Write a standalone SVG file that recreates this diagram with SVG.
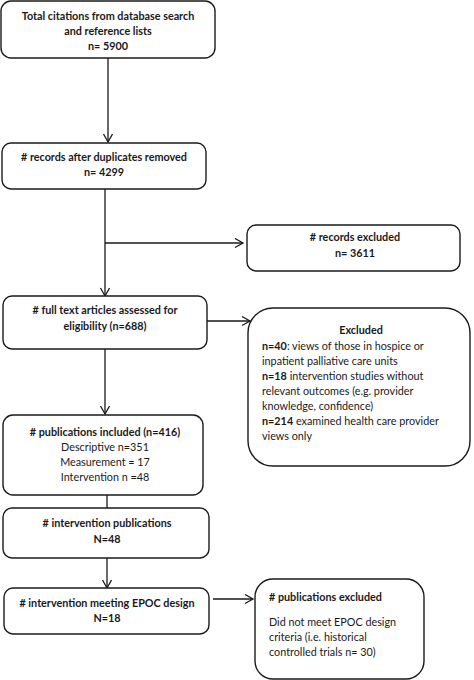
<svg xmlns="http://www.w3.org/2000/svg" width="474" height="680" viewBox="0 0 474 680">
<defs>
<marker id="arr" markerUnits="userSpaceOnUse" markerWidth="12" markerHeight="12" refX="9" refY="5" orient="auto">
<path d="M1,0.5 L9,5 L1,9.5" fill="none" stroke="#1a1a1a" stroke-width="1.3"/>
</marker>
<style>
.box{fill:#fff;stroke:#1a1a1a;stroke-width:1.4}
.t{font-family:Lato,"Liberation Sans",sans-serif;font-size:10.8px;fill:#1a1a1a}
.b{font-weight:bold}
.c{text-anchor:middle}
.ln{stroke:#1a1a1a;stroke-width:1.3;fill:none}
</style>
</defs>
<rect width="474" height="680" fill="#fff"/>
<g id="connectors">
<line class="ln" x1="108" y1="58" x2="108" y2="142" marker-end="url(#arr)"/>
<line class="ln" x1="105" y1="189" x2="105" y2="296" marker-end="url(#arr)"/>
<line class="ln" x1="105" y1="243" x2="243" y2="243" marker-end="url(#arr)"/>
<line class="ln" x1="207" y1="321" x2="250" y2="321" marker-end="url(#arr)"/>
<line class="ln" x1="105" y1="349" x2="105" y2="414" marker-end="url(#arr)"/>
<line class="ln" x1="107" y1="495" x2="107" y2="508"/>
<line class="ln" x1="107" y1="558" x2="107" y2="588" marker-end="url(#arr)"/>
<line class="ln" x1="213" y1="599" x2="253" y2="599" marker-end="url(#arr)"/>
</g>
<g id="n1">
<rect class="box" x="1" y="1" width="214" height="57" rx="10"/>
<text class="t b c" x="108" y="20">Total citations from database search</text>
<text class="t b c" x="108" y="35">and reference lists</text>
<text class="t b c" x="108" y="50">n= 5900</text>
</g>
<g id="n2">
<rect class="box" x="2" y="143" width="204" height="46" rx="9"/>
<text class="t b c" x="104" y="161">#  records after duplicates removed</text>
<text class="t b c" x="104" y="176">n= 4299</text>
</g>
<g id="n3">
<rect class="box" x="247" y="225" width="213" height="46" rx="9"/>
<text class="t b c" x="355" y="241">#  records excluded</text>
<text class="t b c" x="355" y="257">n= 3611</text>
</g>
<g id="n4">
<rect class="box" x="3" y="296" width="204" height="53" rx="9"/>
<text class="t b c" x="105" y="314">#  full text articles assessed for</text>
<text class="t b c" x="105" y="330">eligibility (n=688)</text>
</g>
<g id="n5">
<rect class="box" x="248" y="308" width="222" height="158" rx="25"/>
<text class="t b c" x="361" y="334">Excluded</text>
<text class="t" x="262" y="350"><tspan class="b">n=40</tspan>: views of those in hospice or</text>
<text class="t" x="262" y="365">inpatient palliative care units</text>
<text class="t" x="262" y="380"><tspan class="b">n=18</tspan> intervention studies without</text>
<text class="t" x="262" y="395">relevant outcomes (e.g. provider</text>
<text class="t" x="262" y="410">knowledge, confidence)</text>
<text class="t" x="262" y="425"><tspan class="b">n=214</tspan> examined health care provider</text>
<text class="t" x="262" y="440">views only</text>
</g>
<g id="n6">
<rect class="box" x="3" y="415" width="200" height="80" rx="10"/>
<text class="t b c" x="105" y="436">#  publications included (n=416)</text>
<text class="t c" x="105" y="451">Descriptive n=351</text>
<text class="t c" x="105" y="466">Measurement = 17</text>
<text class="t c" x="105" y="481">Intervention n =48</text>
</g>
<g id="n7">
<rect class="box" x="3" y="508" width="206" height="50" rx="9"/>
<text class="t b c" x="107" y="527">#  intervention publications</text>
<text class="t b c" x="107" y="543">N=48</text>
</g>
<g id="n8">
<rect class="box" x="4" y="588" width="205" height="46" rx="9"/>
<text class="t b c" x="107" y="607">#  intervention meeting EPOC design</text>
<text class="t b c" x="107" y="622">N=18</text>
</g>
<g id="n9">
<rect class="box" x="255" y="579" width="169" height="100" rx="18"/>
<text class="t b" x="269" y="601">#  publications excluded</text>
<text class="t" x="269" y="626">Did not meet EPOC design</text>
<text class="t" x="269" y="641">criteria (i.e. historical</text>
<text class="t" x="269" y="656">controlled trials n= 30)</text>
</g>
</svg>
